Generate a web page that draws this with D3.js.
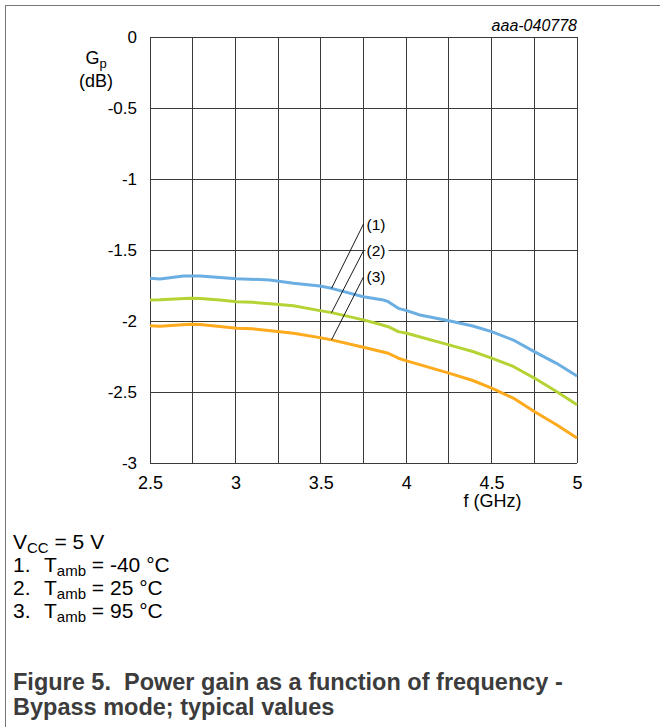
<!DOCTYPE html>
<html>
<head>
<meta charset="utf-8">
<script src="https://cdn.jsdelivr.net/npm/d3@7"></script>
<style>
  html, body { margin: 0; padding: 0; background: #fff; }
  svg { display: block; font-family: "Liberation Sans", Arial, sans-serif; }
</style>
</head>
<body>
<svg id="chart" width="660" height="727"></svg>
<script>
// ---- data ----
const freqBlue = [2.5, 2.559, 2.695, 2.793, 2.89, 3.007, 3.2, 3.34, 3.495, 3.563, 3.749, 3.866, 3.895, 3.954, 4.003, 4.08, 4.25, 4.39, 4.5, 4.627, 4.75, 4.88, 5.0];
const gainBlue = [-1.699, -1.704, -1.683, -1.683, -1.692, -1.702, -1.711, -1.734, -1.753, -1.770, -1.829, -1.852, -1.864, -1.911, -1.927, -1.958, -1.998, -2.035, -2.075, -2.134, -2.216, -2.298, -2.387];

const freqGreen = [2.5, 2.559, 2.734, 2.793, 2.91, 3.007, 3.1, 3.22, 3.34, 3.495, 3.563, 3.749, 3.85, 3.895, 3.954, 4.003, 4.25, 4.39, 4.5, 4.627, 4.75, 4.88, 5.0];
const gainGreen = [-1.852, -1.851, -1.840, -1.842, -1.852, -1.864, -1.868, -1.880, -1.892, -1.927, -1.941, -1.992, -2.025, -2.040, -2.075, -2.086, -2.168, -2.215, -2.262, -2.320, -2.402, -2.496, -2.590];

const freqOrange = [2.5, 2.559, 2.734, 2.793, 2.91, 3.007, 3.1, 3.22, 3.34, 3.495, 3.563, 3.749, 3.81, 3.895, 3.954, 4.003, 4.25, 4.39, 4.5, 4.627, 4.75, 4.88, 5.0];
const gainOrange = [-2.034, -2.037, -2.023, -2.025, -2.039, -2.051, -2.055, -2.070, -2.086, -2.117, -2.133, -2.185, -2.203, -2.227, -2.262, -2.281, -2.367, -2.419, -2.473, -2.543, -2.637, -2.731, -2.824];

const seriesNames = ["(1)", "(2)", "(3)"];
const labelValues = [-1.317, -1.505, -1.69];   // where the (n) labels sit on the y scale
const labelFreq = 3.75;
const anchorFreq = 3.563;                       // where the leader lines hit the curves

const xTicks = [2.5, 3, 3.5, 4, 4.5, 5];
const xGrid = [2.5, 2.75, 3, 3.25, 3.5, 3.75, 4, 4.25, 4.5, 4.75, 5];
const yTicks = [0, -0.5, -1, -1.5, -2, -2.5, -3];

const legendLines = [
  {num: "1.", value: " = -40 °C"},
  {num: "2.", value: " = 25 °C"},
  {num: "3.", value: " = 95 °C"}
];
const captionLines = ["Figure 5.\u00A0 Power gain as a function of frequency -", "Bypass mode; typical values"];

// ---- drawing ----
const svg = d3.select("#chart");
const plotL = 150, plotR = 577, plotT = 37, plotB = 463;
const x = d3.scaleLinear().domain([2.5, 5]).range([plotL, plotR]);
const y = d3.scaleLinear().domain([0, -3]).range([plotT, plotB]);

// frame (top and left edges)
svg.append("line").attr("x1", 5).attr("x2", 660).attr("y1", 5.5).attr("y2", 5.5).attr("stroke", "#777").attr("stroke-width", 1);
svg.append("line").attr("x1", 5.5).attr("x2", 5.5).attr("y1", 5).attr("y2", 727).attr("stroke", "#777").attr("stroke-width", 1);

// grid
const grid = svg.append("g").attr("stroke", "#3a3a3a").attr("stroke-width", 1).attr("shape-rendering", "crispEdges");
grid.selectAll("line.v").data(xGrid).join("line").attr("class", "v")
  .attr("x1", d => x(d)).attr("x2", d => x(d)).attr("y1", plotT).attr("y2", plotB);
grid.selectAll("line.h").data(yTicks).join("line").attr("class", "h")
  .attr("x1", plotL).attr("x2", plotR).attr("y1", d => y(d)).attr("y2", d => y(d));

// axes labels
const yAxis = d3.axisLeft(y).tickValues(yTicks).tickSize(0).tickPadding(13).tickFormat(d => String(d));
const gy = svg.append("g").attr("transform", `translate(${plotL},0)`).call(yAxis);
gy.select(".domain").remove();
gy.selectAll("text").attr("font-size", 17).attr("fill", "#000").attr("font-family", "Liberation Sans, Arial, sans-serif");

const xAxis = d3.axisBottom(x).tickValues(xTicks).tickSize(0).tickPadding(13).tickFormat(d => String(d));
const gx = svg.append("g").attr("transform", `translate(0,${plotB})`).call(xAxis);
gx.select(".domain").remove();
gx.selectAll("text").attr("font-size", 18).attr("fill", "#000").attr("font-family", "Liberation Sans, Arial, sans-serif");

// axis titles
const gp = svg.append("text").attr("x", 96).attr("y", 64).attr("text-anchor", "middle").attr("font-size", 18);
gp.append("tspan").text("G");
gp.append("tspan").attr("font-size", 13).attr("dy", 4).text("p");
svg.append("text").attr("x", 96).attr("y", 87).attr("text-anchor", "middle").attr("font-size", 18).text("(dB)");
svg.append("text").attr("x", x(4.5) + 1).attr("y", 507).attr("text-anchor", "middle").attr("font-size", 18).text("f (GHz)");
svg.append("text").attr("x", plotR).attr("y", 31).attr("text-anchor", "end").attr("font-size", 16).attr("font-style", "italic").text("aaa-040778");

// curves
const series = [
  {f: freqBlue, g: gainBlue, color: "#6aaee2"},
  {f: freqGreen, g: gainGreen, color: "#b5d334"},
  {f: freqOrange, g: gainOrange, color: "#fdaa1c"}
];
const line = d3.line().x(d => x(d[0])).y(d => y(d[1]));
svg.append("g").selectAll("path").data(series).join("path")
  .attr("d", s => line(s.f.map((f, i) => [f, s.g[i]])))
  .attr("fill", "none").attr("stroke", s => s.color).attr("stroke-width", 3)
  .attr("stroke-linejoin", "round").attr("stroke-linecap", "butt");

// leader lines and labels
const interp = (s, f) => {
  const i = d3.bisectLeft(s.f, f);
  if (i <= 0) return s.g[0];
  const t = (f - s.f[i - 1]) / (s.f[i] - s.f[i - 1]);
  return s.g[i - 1] + t * (s.g[i] - s.g[i - 1]);
};
const lab = svg.append("g");
seriesNames.forEach((name, i) => {
  lab.append("line")
    .attr("x1", x(labelFreq)).attr("y1", y(labelValues[i]))
    .attr("x2", x(anchorFreq)).attr("y2", y(interp(series[i], anchorFreq)))
    .attr("stroke", "#000").attr("stroke-width", 0.9);
  lab.append("rect").attr("x", x(labelFreq) + 2).attr("y", y(labelValues[i]) - 9)
    .attr("width", 23).attr("height", 18).attr("fill", "#fff");
  lab.append("text").attr("x", x(labelFreq) + 3).attr("y", y(labelValues[i]) + 5.5)
    .attr("font-size", 15.5).text(name);
});

// legend
const vcc = svg.append("text").attr("x", 13).attr("y", 549).attr("font-size", 21);
vcc.append("tspan").text("V");
vcc.append("tspan").attr("font-size", 15).attr("dy", 4).text("CC");
vcc.append("tspan").attr("dy", -4).text(" = 5 V");
legendLines.forEach((d, i) => {
  const by = 572 + i * 23;
  const t = svg.append("text").attr("y", by).attr("font-size", 21);
  t.append("tspan").attr("x", 13).text(d.num);
  t.append("tspan").attr("x", 44).text("T");
  t.append("tspan").attr("font-size", 15).attr("dy", 4).text("amb");
  t.append("tspan").attr("dy", -4).text(d.value);
});

// caption
captionLines.forEach((c, i) => {
  svg.append("text").attr("x", 13).attr("y", 690 + i * 25).attr("font-size", 23.5)
    .attr("font-weight", "bold").attr("fill", "#3c3c3c").text(c);
});
</script>
</body>
</html>
